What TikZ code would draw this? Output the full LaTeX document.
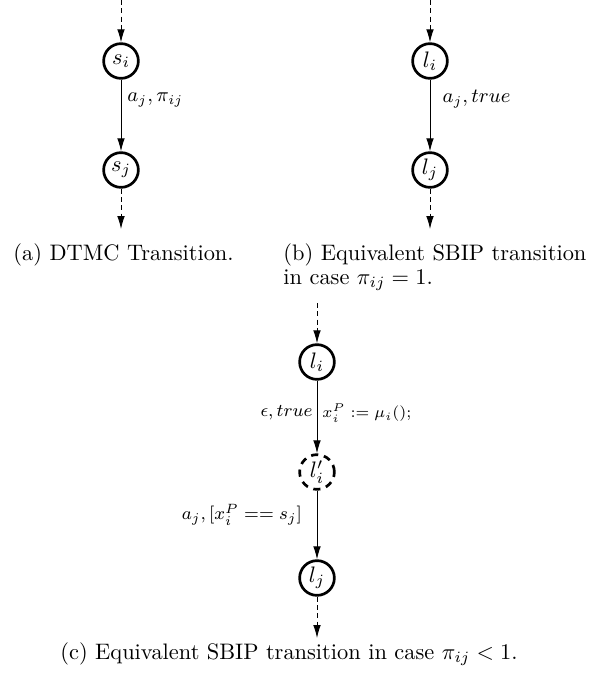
\documentclass[tikz,border=0pt]{standalone}
\usetikzlibrary{arrows.meta}
\begin{document}
\begin{tikzpicture}[x=0.4464pt,y=-0.4464pt,
  state/.style={circle,draw,line width=1.2pt,minimum size=15.5pt,inner sep=0pt},
  dstate/.style={state,dash pattern=on 3.2pt off 2.6pt},
  trans/.style={draw,line width=0.4pt,-{Latex[length=5.8pt,width=3.4pt]}},
  dtrans/.style={trans,dash pattern=on 2.2pt off 1.5pt},
  lab/.style={inner sep=0pt,font=\small},
  clab/.style={inner sep=0pt,font=\footnotesize},
  slab/.style={inner sep=0pt,font=\scriptsize},
  captext/.style={inner sep=0pt,anchor=base west}]
\useasboundingbox (0,0) rectangle (610,679);
% (a)
\coordinate (atop) at (121,0);
\node[state] (si) at (121,61) {$s_i$};
\node[state] (sj) at (121,170) {$s_j$};
\coordinate (abot) at (121,229);
\draw[dtrans] (atop) -- (si);
\draw[trans] (si) -- node[lab,anchor=west,xshift=2.7pt,yshift=6.9pt] (la) {$a_j,\pi_{ij}$} (sj);
\draw[dtrans] (sj) -- (abot);
% (b)
\coordinate (btop) at (430,0);
\node[state] (li) at (430,61) {$l_i$};
\node[state] (lj) at (430,170) {$l_j$};
\coordinate (bbot) at (430,229);
\draw[dtrans] (btop) -- (li);
\draw[trans] (li) -- node[lab,anchor=west,xshift=5.4pt,yshift=7.3pt] (lb) {$a_j,true$} (lj);
\draw[dtrans] (lj) -- (bbot);
% captions
\node[captext] (capa) at (13,260) {(a) DTMC Transition.};
\node[captext] (capb1) at (283,260) {(b) Equivalent SBIP transition};
\node[captext] (capb2) at (283,284) {in case $\pi_{ij}=1$.};
% (c)
\coordinate (ctop) at (317,303);
\node[state] (cli) at (317,362) {$l_i$};
\node[dstate] (clp) at (317,472) {$l'_i$};
\node[state] (clj) at (317,578) {$l_j$};
\coordinate (cbot) at (317,638);
\draw[dtrans] (ctop) -- (cli);
\draw[trans] (cli) -- node[clab,anchor=east,xshift=-1.8pt,yshift=1.8pt] (lc1) {$\epsilon,true$}
  node[slab,anchor=west,xshift=2.2pt,yshift=1.8pt] (lc2) {$x_i^P := \mu_i();$} (clp);
\draw[trans] (clp) -- node[clab,anchor=east,xshift=-6.5pt,yshift=4.5pt] (lc3) {$a_j,[x_i^P == s_j]$} (clj);
\draw[dtrans] (clj) -- (cbot);
\node[captext,anchor=base] (capc) at (289,659) {(c) Equivalent SBIP transition in case $\pi_{ij}<1$.};
\end{tikzpicture}
\end{document}
